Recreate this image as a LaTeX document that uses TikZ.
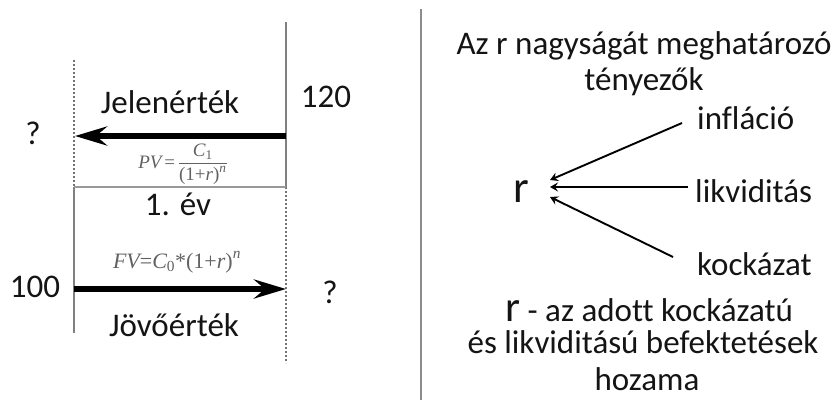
\documentclass[tikz,border=0pt]{standalone}
\usepackage{amsmath}
\usepackage{fontspec}
\setmainfont{Carlito}[Ligatures=NoCommon]
\newfontfamily\tms{Liberation Serif}
\newcommand{\ti}[1]{\text{\tms\itshape #1}}
\newcommand{\tu}[1]{\text{\tms #1}}
\usetikzlibrary{arrows.meta}
\begin{document}
\begin{tikzpicture}[x=1pt,y=-1pt,
  lbl/.style={inner sep=0pt, font=\fontsize{33}{36}\selectfont, text=black!92},
  bigr/.style={inner sep=0pt, font=\fontsize{45}{48}\selectfont, text=black!92},
  frm/.style={inner sep=0pt, text=black!62},
  solidline/.style={draw=black!50, line width=1.3pt},
  dotline/.style={draw=black!55, line width=1.2pt, dash pattern=on 2pt off 2pt},
  baseline/.style={draw=black!40, line width=1.8pt},
  bigarrow/.style={line width=6pt, -{Stealth[length=32pt,width=19pt,inset=11pt]}},
  thinarrow/.style={line width=1.9pt, -{Stealth[length=8pt,width=9pt,inset=3pt]}}
]
\useasboundingbox (0,0) rectangle (832,400);

% ---------- left panel: time line ----------
\coordinate (Ltop) at (74,60);
\coordinate (Lmid) at (74,187);
\coordinate (Lbot) at (74,333);
\coordinate (Rtop) at (286,22);
\coordinate (Rmid) at (286,187);
\coordinate (Rbot) at (286,363);
\draw[dotline] (Ltop) -- (Lmid);
\draw[solidline] (Lmid) -- (Lbot);
\draw[solidline] (Rtop) -- (Rmid);
\draw[dotline] (Rmid) -- (Rbot);
\draw[baseline] (Lmid) -- (Rmid);

\coordinate (pvstart) at (286,136);
\coordinate (pvend) at (75,136);
\coordinate (fvstart) at (74,289);
\coordinate (fvend) at (286,289);
\draw[bigarrow] (pvstart) -- (pvend);
\draw[bigarrow] (fvstart) -- (fvend);

\node[lbl, anchor=base] (jelen) at (170,113) {Jelenérték};
\node[lbl, anchor=base] (v120) at (326,107) {120};
\node[lbl, anchor=base] (qleft) at (33,144) {?};
\node[frm, font=\fontsize{19}{22}\selectfont] (pv) at (183,164)
  {$\ti{PV}\,\tu{=}\,\dfrac{\ti{C}_{\tu{1}}}{\tu{(1+}\ti{r}\tu{)}^{\ti{n}}}$};
\node[lbl, anchor=base] (ev) at (178,215) {1. év};
\node[frm, font=\fontsize{22}{24}\selectfont] (fv) at (177,262)
  {$\ti{FV}\tu{=}\ti{C}_{\tu{0}}\tu{*(1+}\ti{r}\tu{)}^{\ti{n}}$};
\node[lbl, anchor=base] (v100) at (35,297) {100};
\node[lbl, anchor=base] (qright) at (330,303) {?};
\node[lbl, anchor=base] (jovo) at (174,336) {Jövőérték};

% ---------- divider ----------
\coordinate (dtop) at (421,9);
\coordinate (dbot) at (421,400);
\draw[draw=black!45, line width=1.8pt] (dtop) -- (dbot);

% ---------- right panel ----------
\node[lbl, anchor=base] (title1) at (644,54) {Az r nagyságát meghatározó};
\node[lbl, anchor=base] (title2) at (644,90) {tényezők};

\node[bigr, anchor=base] (r) at (521,202) {r};
\node[lbl, anchor=base west] (infl) at (697,129) {infláció};
\node[lbl, anchor=base west] (likv) at (695,202) {likviditás};
\node[lbl, anchor=base west] (kock) at (697,275) {kockázat};

\coordinate (tip1) at (550,180);
\coordinate (tip2) at (550,187);
\coordinate (tip3) at (550,197);
\draw[thinarrow] ([shift={(-15,-6)}]infl.base west) -- (tip1);
\draw[thinarrow] ([shift={(-7,-15)}]likv.base west) -- (tip2);
\draw[thinarrow] ([shift={(-24,-18)}]kock.base west) -- (tip3);

\node[lbl, anchor=base west] (def1) at (505,321) {{\fontsize{43}{46}\selectfont r} - az adott kockázatú};
\node[lbl, anchor=base] (def2) at (643,353) {és likviditású befektetések};
\node[lbl, anchor=base] (def3) at (647,390) {hozama};
\end{tikzpicture}
\end{document}
